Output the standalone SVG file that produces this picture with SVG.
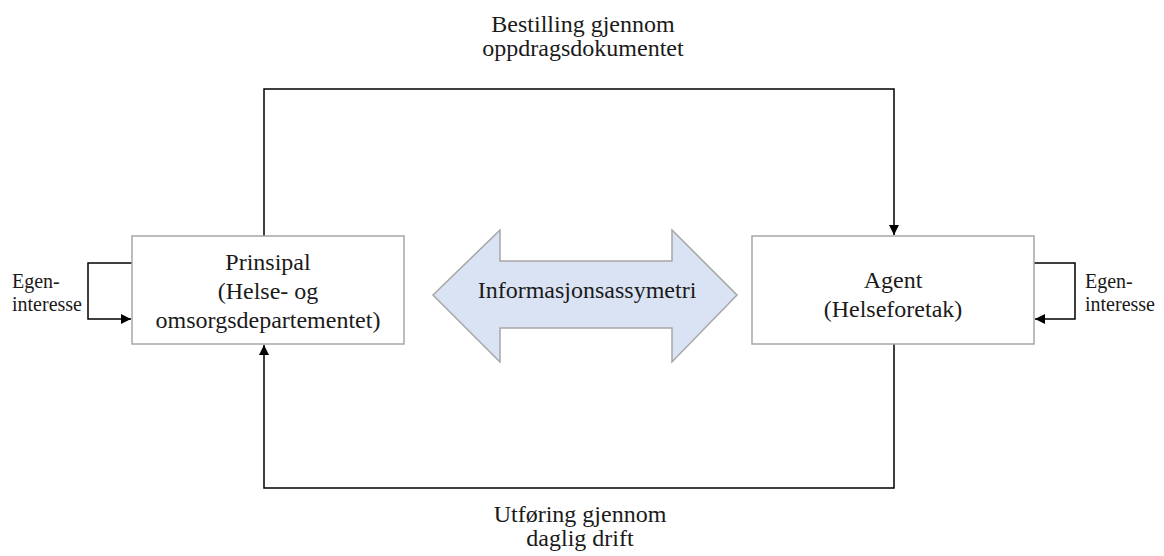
<svg xmlns="http://www.w3.org/2000/svg" width="1164" height="556" viewBox="0 0 1164 556">
<style>
text { font-family: "Liberation Serif", "Times New Roman", serif; fill: #1a1a1a; }
.big { font-size: 24px; text-anchor: middle; }
.small { font-size: 20px; }
.box { fill: #ffffff; stroke: #a6a6a6; stroke-width: 1.5; }
.conn { fill: none; stroke: #000000; stroke-width: 1.5; }
.dbl { fill: #dae3f3; stroke: #a6a6a6; stroke-width: 1.5; }
</style>
<defs>
<marker id="ah" viewBox="0 0 10 10" refX="10" refY="5" markerWidth="10" markerHeight="10" markerUnits="userSpaceOnUse" orient="auto">
<path d="M0,0 L10,5 L0,10 z" fill="#000000"/>
</marker>
</defs>
<rect width="1164" height="556" fill="#ffffff"/>
<g id="connectors">
<path class="conn" d="M264,236 V89 H894 V235" marker-end="url(#ah)"/>
<path class="conn" d="M894,344 V488 H264 V345" marker-end="url(#ah)"/>
<path class="conn" d="M132,263 H88 V319 H131" marker-end="url(#ah)"/>
<path class="conn" d="M1034,263 H1075 V319 H1035" marker-end="url(#ah)"/>
</g>
<g id="principal">
<rect class="box" x="132" y="236" width="272" height="108"/>
<text class="big" x="268" y="270">Prinsipal</text>
<text class="big" x="268" y="299">(Helse- og</text>
<text class="big" x="268" y="328">omsorgsdepartementet)</text>
</g>
<g id="agent">
<rect class="box" x="752" y="236" width="282" height="108"/>
<text class="big" x="893" y="288">Agent</text>
<text class="big" x="893" y="317">(Helseforetak)</text>
</g>
<g id="asymmetry">
<path class="dbl" d="M433,295 L500,230 V261 H672 V230 L737,295 L672,362 V328 H500 V362 Z"/>
<text class="big" x="587" y="298">Informasjonsassymetri</text>
</g>
<g id="label-top">
<text class="big" x="583" y="32">Bestilling gjennom</text>
<text class="big" x="583" y="56">oppdragsdokumentet</text>
</g>
<g id="label-bottom">
<text class="big" x="580" y="522">Utføring gjennom</text>
<text class="big" x="580" y="546">daglig drift</text>
</g>
<g id="label-left">
<text class="small" x="12" y="288">Egen-</text>
<text class="small" x="12" y="311">interesse</text>
</g>
<g id="label-right">
<text class="small" x="1085" y="288">Egen-</text>
<text class="small" x="1085" y="311">interesse</text>
</g>
</svg>
